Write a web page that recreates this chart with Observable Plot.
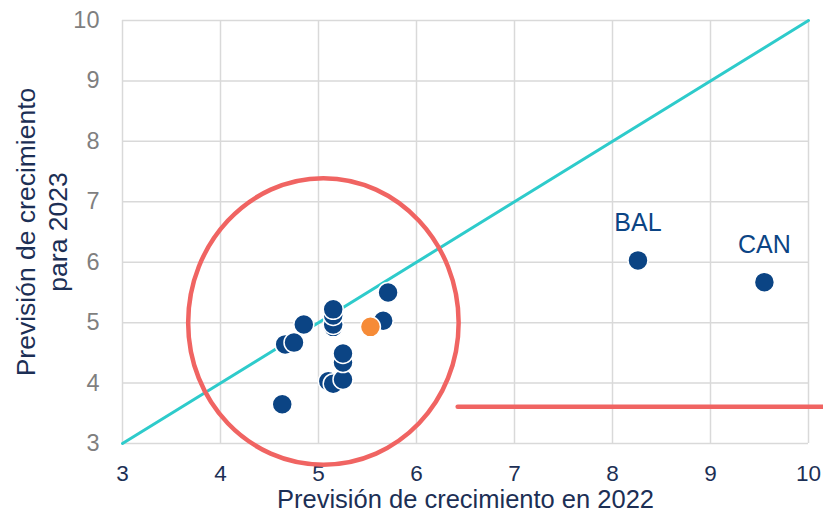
<!DOCTYPE html>
<html><head><meta charset="utf-8">
<script src="https://cdn.jsdelivr.net/npm/d3@7"></script>
<script src="https://cdn.jsdelivr.net/npm/@observablehq/plot@0.6"></script>
<style>body{margin:0;background:#fff;font-family:"Liberation Sans",Arial,sans-serif;}</style>
</head><body><div id="chart"></div>
<script>
// Regions: growth forecast 2022 (x) vs 2023 (y)
const x2022 = [4.63, 4.66, 4.75, 4.85, 5.10, 5.15, 5.15, 5.15, 5.15, 5.15, 5.25, 5.25, 5.25, 5.66, 5.71, 8.26, 9.55];
const y2023 = [3.65, 4.64, 4.67, 4.97, 4.03, 3.99, 4.93, 4.97, 5.12, 5.22, 4.06, 4.34, 4.49, 5.03, 5.50, 6.03, 5.67];
const regionLabels = ["", "", "", "", "", "", "", "", "", "", "", "", "", "", "", "BAL", "CAN"];
// Highlighted (Spain) point
const highlightX = [5.53];
const highlightY = [4.93];
// Axis ticks
const ticks = [3, 4, 5, 6, 7, 8, 9, 10];
// Annotation shapes (data coordinates)
const diagX = [3, 10], diagY = [3, 10];
const ringX = [3.67, 5.05, 6.43, 5.05], ringY = [5.0, 7.39, 5.0, 2.65];
const barX = [6.42, 10.16], barY = [3.61, 3.61];

const pts = x2022.map((x, i) => ({x, y: y2023[i], label: regionLabels[i]}));
const hi = highlightX.map((x, i) => ({x, y: highlightY[i]}));
const diag = diagX.map((x, i) => ({x, y: diagY[i]}));
const ring = ringX.map((x, i) => ({x, y: ringY[i]}));
const bar = barX.map((x, i) => ({x, y: barY[i]}));

const navy = "#0B4484";
const chart = Plot.plot({
  width: 823, height: 514,
  marginLeft: 122, marginRight: 15, marginTop: 20, marginBottom: 71,
  style: {fontFamily: "Liberation Sans, Arial, sans-serif", background: "#fff"},
  x: {domain: [3, 10], axis: null},
  y: {domain: [3, 10], axis: null},
  marks: [
    Plot.gridX(ticks, {stroke: "#d9d9d9", strokeOpacity: 1, strokeWidth: 1.5}),
    Plot.gridY(ticks, {stroke: "#d9d9d9", strokeOpacity: 1, strokeWidth: 1.5}),
    Plot.text(ticks, {x: d => d, frameAnchor: "bottom", lineAnchor: "middle", dy: 30, fontSize: 22.5, fill: "#1c2f55", text: d => String(d)}),
    Plot.text(ticks, {y: d => d, frameAnchor: "left", textAnchor: "end", lineAnchor: "middle", dx: -23, fontSize: 23.5, fill: "#7f7f7f", text: d => String(d)}),
    Plot.text(["Previsión de crecimiento en 2022"], {frameAnchor: "bottom", lineAnchor: "middle", textAnchor: "middle", dy: 56.5, fontSize: 25.5, fill: "#1c2f55"}),
    Plot.text(["Previsión de crecimiento\npara 2023"], {frameAnchor: "left", textAnchor: "middle", lineAnchor: "middle", dx: -82, rotate: -90, fontSize: 26.5, fill: "#1c2f55", lineHeight: 1.2}),
    Plot.line(diag, {x: "x", y: "y", stroke: "#2ECBCB", strokeWidth: 3}),
    Plot.line(ring, {x: "x", y: "y", curve: "cardinal-closed", tension: -0.657, stroke: "#F06462", strokeWidth: 4.5, fill: "none"}),
    Plot.line(bar, {x: "x", y: "y", stroke: "#F06462", strokeWidth: 4.5}),
    Plot.dot(pts, {x: "x", y: "y", r: 10, fill: navy, stroke: "#fff", strokeWidth: 1.5}),
    Plot.dot(hi, {x: "x", y: "y", r: 10, fill: "#F68B37", stroke: "#fff", strokeWidth: 1.5}),
    Plot.text(pts, {x: "x", y: "y", text: "label", dy: -37, fontSize: 25, fill: navy})
  ]
});
document.getElementById("chart").appendChild(chart);
</script></body></html>
